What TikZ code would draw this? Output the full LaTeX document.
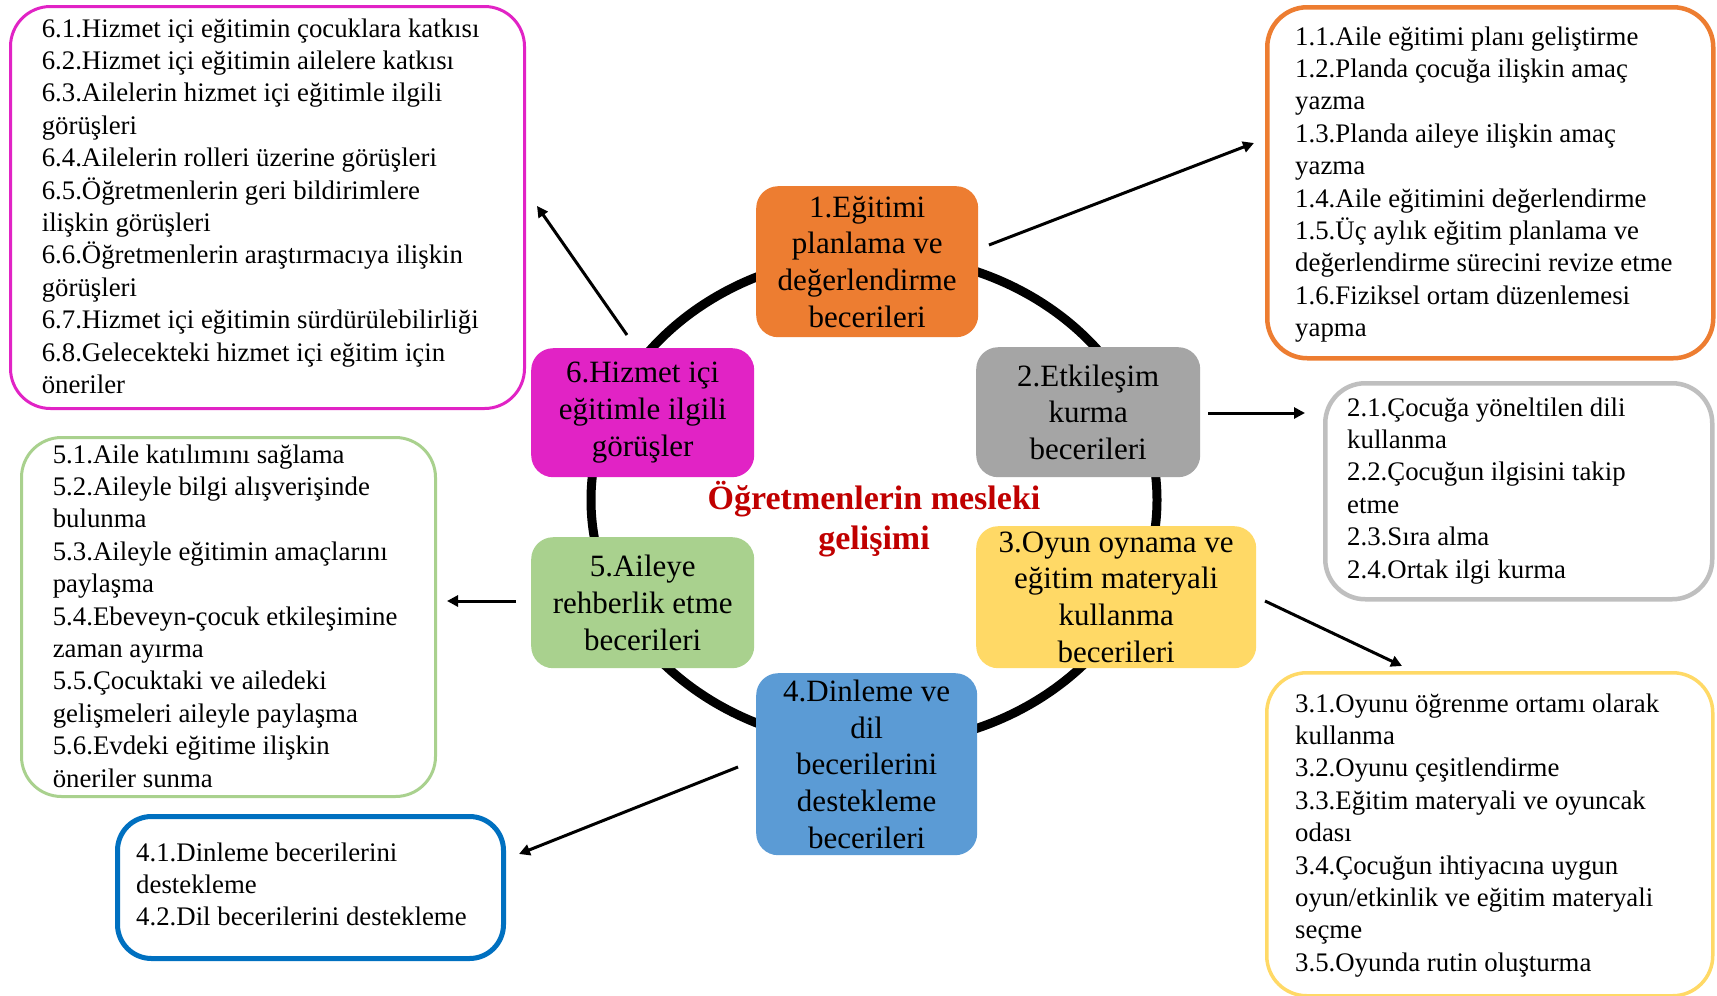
\documentclass[tikz,border=0pt]{standalone}
\usepackage{fontspec}
\setmainfont{Liberation Serif}
\usetikzlibrary{arrows.meta}
\definecolor{cOr}{HTML}{ED7D31}
\definecolor{cGr}{HTML}{A5A5A5}
\definecolor{cGrL}{HTML}{BFBFBF}
\definecolor{cYe}{HTML}{FFD966}
\definecolor{cBl}{HTML}{5B9BD5}
\definecolor{cBlD}{HTML}{0070C0}
\definecolor{cGn}{HTML}{A9D18E}
\definecolor{cMg}{HTML}{E123C5}
\definecolor{cRed}{HTML}{C00000}
\begin{document}
\begin{tikzpicture}[x=1pt,y=-1pt,
 core/.style={rounded corners=22pt, inner sep=0pt, align=center, anchor=north west, font=\fontsize{31}{36.7}\selectfont},
 obox/.style={rounded corners=40pt, anchor=north west, inner sep=0pt, fill=white},
 txt/.style={anchor=north west, inner sep=0pt, align=left, font=\fontsize{26.8}{32.4}\selectfont},
 arr/.style={line width=3pt, -{Triangle[length=11pt,width=11pt]}}]
\useasboundingbox[fill=white] (0,0) rectangle (1717,996);

% ring
\draw[line width=9pt] (874,500) ellipse [x radius=283pt, y radius=245pt];

% core nodes
\node[core, fill=cOr, minimum width=222pt, minimum height=151pt] (n1) at (756,186) {1.Eğitimi\\planlama ve\\değerlendirme\\becerileri};
\node[core, fill=cGr, minimum width=224pt, minimum height=130pt] (n2) at (976,347) {2.Etkileşim\\kurma\\becerileri};
\node[core, fill=cYe, minimum width=280pt, minimum height=142pt] (n3) at (976,526) {3.Oyun oynama ve\\eğitim materyali\\kullanma\\becerileri};
\node[core, fill=cBl, minimum width=221pt, minimum height=182pt] (n4) at (756,673) {4.Dinleme ve\\dil\\becerilerini\\destekleme\\becerileri};
\node[core, fill=cGn, minimum width=223pt, minimum height=131pt] (n5) at (531,537) {5.Aileye\\rehberlik etme\\becerileri};
\node[core, fill=cMg, minimum width=223pt, minimum height=129pt] (n6) at (531,348) {6.Hizmet içi\\eğitimle ilgili\\görüşler};

% title
\node[align=center, inner sep=0pt, text=cRed, font=\bfseries\fontsize{34}{40.5}\selectfont] (title) at (874,519) {Öğretmenlerin mesleki\\gelişimi};

% outline boxes
\node[obox, draw=cMg, line width=3pt, minimum width=514pt, minimum height=402pt] (b6) at (9,5) {};
\node[obox, draw=cOr, line width=4.5pt, minimum width=446pt, minimum height=351pt] (b1) at (1265,5) {};
\node[obox, draw=cGrL, line width=4.5pt, minimum width=387pt, minimum height=216pt] (b2) at (1323,381) {};
\node[obox, draw=cGn, line width=3pt, minimum width=414pt, minimum height=359pt] (b5) at (20,436) {};
\node[obox, draw=cBlD, line width=5pt, rounded corners=34pt, minimum width=386pt, minimum height=142pt] (b4) at (115,814) {};
\node[obox, draw=cYe, line width=3.5pt, minimum width=446pt, minimum height=323pt] (b3) at (1265,671) {};

% texts
\node[txt] (t6) at (41.6,18.3) {6.1.Hizmet içi eğitimin çocuklara katkısı\\6.2.Hizmet içi eğitimin ailelere katkısı\\6.3.Ailelerin hizmet içi eğitimle ilgili\\görüşleri\\6.4.Ailelerin rolleri üzerine görüşleri\\6.5.Öğretmenlerin geri bildirimlere\\ilişkin görüşleri\\6.6.Öğretmenlerin araştırmacıya ilişkin\\görüşleri\\6.7.Hizmet içi eğitimin sürdürülebilirliği\\6.8.Gelecekteki hizmet içi eğitim için\\öneriler};
\node[txt] (t1) at (1295,26.3) {1.1.Aile eğitimi planı geliştirme\\1.2.Planda çocuğa ilişkin amaç\\yazma\\1.3.Planda aileye ilişkin amaç\\yazma\\1.4.Aile eğitimini değerlendirme\\1.5.Üç aylık eğitim planlama ve\\değerlendirme sürecini revize etme\\1.6.Fiziksel ortam düzenlemesi\\yapma};
\node[txt] (t2) at (1347,397.3) {2.1.Çocuğa yöneltilen dili\\kullanma\\2.2.Çocuğun ilgisini takip\\etme\\2.3.Sıra alma\\2.4.Ortak ilgi kurma};
\node[txt] (t5) at (52.6,444.3) {5.1.Aile katılımını sağlama\\5.2.Aileyle bilgi alışverişinde\\bulunma\\5.3.Aileyle eğitimin amaçlarını\\paylaşma\\5.4.Ebeveyn-çocuk etkileşimine\\zaman ayırma\\5.5.Çocuktaki ve ailedeki\\gelişmeleri aileyle paylaşma\\5.6.Evdeki eğitime ilişkin\\öneriler sunma};
\node[txt] (t4) at (136,842.3) {4.1.Dinleme becerilerini\\destekleme\\4.2.Dil becerilerini destekleme};
\node[txt] (t3) at (1295,693.3) {3.1.Oyunu öğrenme ortamı olarak\\kullanma\\3.2.Oyunu çeşitlendirme\\3.3.Eğitim materyali ve oyuncak\\odası\\3.4.Çocuğun ihtiyacına uygun\\oyun/etkinlik ve eğitim materyali\\seçme\\3.5.Oyunda rutin oluşturma};

% arrow end points
\coordinate (s1) at (989,245);  \coordinate (e1) at (1254,143);
\coordinate (s2) at (1208,413); \coordinate (e2) at (1305,413);
\coordinate (s3) at (1265,601); \coordinate (e3) at (1402,666);
\coordinate (s4) at (738,767);  \coordinate (e4) at (519,854);
\coordinate (s5) at (516,601);  \coordinate (e5) at (447,601);
\coordinate (s6) at (627,335);  \coordinate (e6) at (537,206);
\draw[arr] (s1) -- (e1);
\draw[arr] (s2) -- (e2);
\draw[arr] (s3) -- (e3);
\draw[arr] (s4) -- (e4);
\draw[arr] (s5) -- (e5);
\draw[arr] (s6) -- (e6);
\end{tikzpicture}
\end{document}
